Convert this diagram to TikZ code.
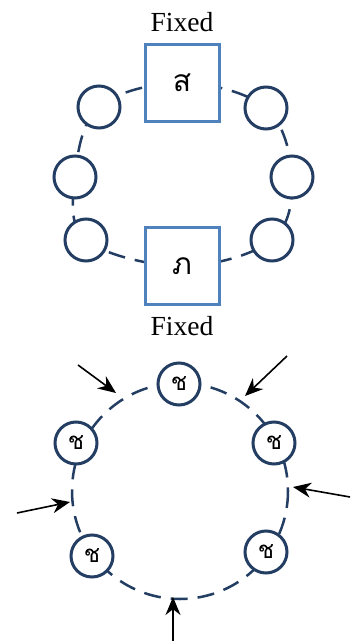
\documentclass[tikz,border=0pt]{standalone}
\usepackage{fontspec}
\setmainfont{Liberation Serif}
\newfontfamily\thaifont[Script=Thai]{Loma}
\usetikzlibrary{positioning,arrows.meta,backgrounds}

\definecolor{ringblue}{RGB}{35,62,98}
\definecolor{boxblue}{RGB}{79,129,189}

\begin{document}
\begin{tikzpicture}[
        x=0.5pt, y=-0.5pt,
        seat/.style={circle, draw=ringblue, line width=1.5pt, fill=white, minimum size=21pt, inner sep=0pt, font=\thaifont\fontsize{12}{13}\selectfont},
        fixedbox/.style={rectangle, draw=boxblue, line width=1.5pt, fill=white, minimum width=37pt, minimum height=38.5pt, font=\thaifont\fontsize{15}{16}\selectfont},
        tag/.style={font=\fontsize{13.8}{16}\selectfont, inner sep=2pt},
        ring/.style={draw=ringblue, line width=1.25pt, dash pattern=on 8.5pt off 5pt},
        push/.style={-{Stealth[length=9pt,width=7.5pt]}, line width=0.8pt},
      ]
      \useasboundingbox (0,0) rectangle (350,641);

      % upper ring: two fixed boxes and six seats
      \node [fixedbox] (fixtop) at (182,83) {ส};
      \node [fixedbox] (fixbot) at (182,266) {ภ};
      \node [tag, above=3.5pt of fixtop] (tagtop) {Fixed};
      \node [tag, below=3pt of fixbot] (tagbot) {Fixed};
      \node [seat] (s1) at (99,107) {};
      \node [seat] (s2) at (75,177) {};
      \node [seat] (s3) at (86,240) {};
      \node [seat] (s4) at (272,240) {};
      \node [seat] (s5) at (292,177) {};
      \node [seat] (s6) at (266,108) {};
      \begin{scope}[on background layer]
        \draw [ring] plot [smooth cycle, tension=0.6] coordinates {(fixtop) (s6) (s5) (s4) (fixbot) (s3) (s2) (s1)};
      \end{scope}

      % lower ring: five seats, pushed from outside
      \coordinate (mid) at (180,491);
      \node [seat] (t1) at (179,384) {ช};
      \node [seat] (t2) at (76,443) {ช};
      \node [seat] (t3) at (274,443) {ช};
      \node [seat] (t4) at (92,556) {ช};
      \node [seat] (t5) at (266,552) {ช};
      \begin{scope}[on background layer]
        \draw [ring] (mid) circle [radius=108];
      \end{scope}

      \coordinate (p1) at (78,365);  \coordinate (q1) at (116,393);
      \coordinate (p2) at (287,356); \coordinate (q2) at (245,396);
      \coordinate (p3) at (350,497); \coordinate (q3) at (293,487);
      \coordinate (p4) at (17,513);  \coordinate (q4) at (70,502);
      \coordinate (p5) at (173,641); \coordinate (q5) at (173,597);
      \foreach \i in {1,...,5}
        \draw [push] (p\i) -- (q\i);
    \end{tikzpicture}
\end{document}
